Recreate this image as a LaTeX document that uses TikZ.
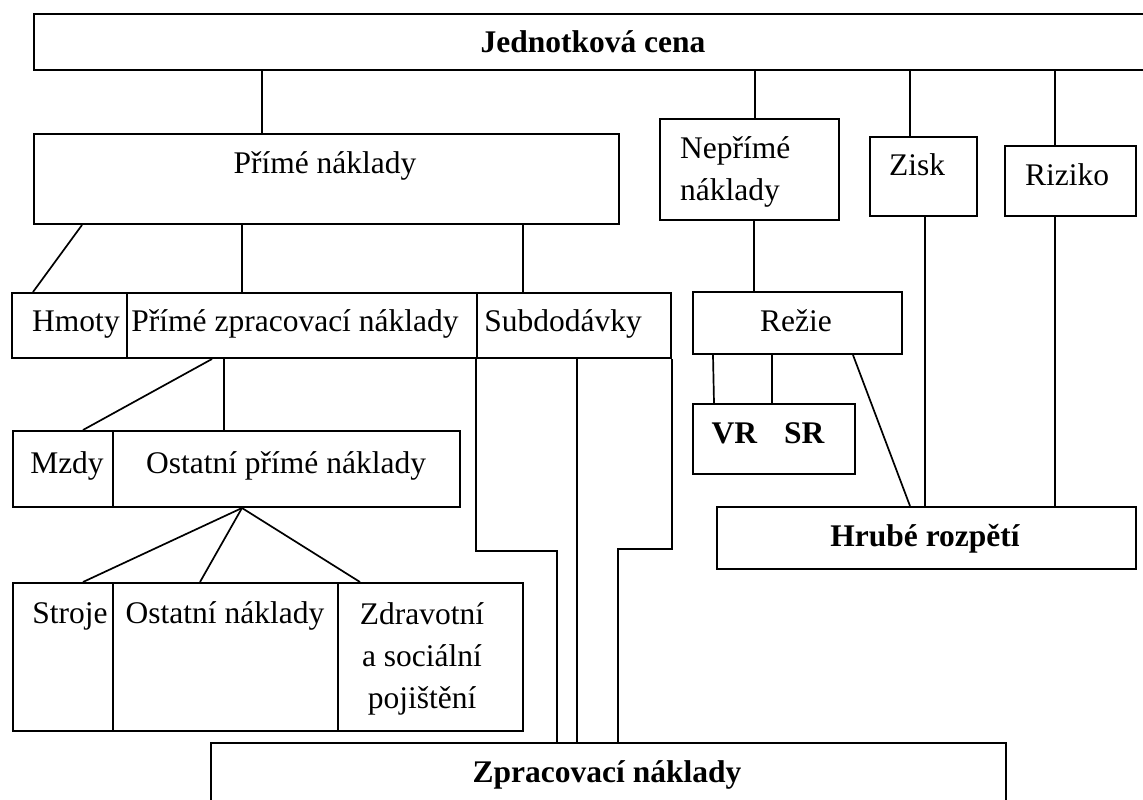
\documentclass[tikz,border=0pt]{standalone}
\usepackage{fontspec}
\setmainfont{Liberation Serif}
\usepackage{tikz}
\usetikzlibrary{calc}

\newcommand{\boxfont}{\fontsize{31.5}{42}\selectfont}

\begin{document}
\begin{tikzpicture}[x=1pt, y=-1pt,
  box/.style={draw, line width=2pt, inner sep=0pt, anchor=north west},
  lbl/.style={inner sep=0pt, anchor=base, font=\boxfont},
  blbl/.style={lbl, font=\boxfont\bfseries},
  link/.style={line width=1.7pt}]
\useasboundingbox (0,0) rectangle (1143,800);

% Boxes
\node[box, minimum width=1200, minimum height=56] (JC) at (33,13) {};
\node[box, minimum width=585, minimum height=90] (PN) at (33,133) {};
\node[box, minimum width=179, minimum height=101] (NP) at (659,118) {};
\node[box, minimum width=107, minimum height=79] (ZI) at (869,136) {};
\node[box, minimum width=131, minimum height=70] (RI) at (1004,145) {};

\node[box, minimum width=115, minimum height=65] (HM) at (11,292) {};
\node[box, minimum width=350, minimum height=65] (PZ) at (126,292) {};
\node[box, minimum width=194, minimum height=65] (SU) at (476,292) {};
\node[box, minimum width=209, minimum height=62] (RE) at (692,291) {};

\node[box, minimum width=100, minimum height=76] (MZ) at (12,430) {};
\node[box, minimum width=347, minimum height=76] (OP) at (112,430) {};
\node[box, minimum width=162, minimum height=70] (VS) at (692,403) {};
\node[box, minimum width=419, minimum height=62] (HR) at (716,506) {};

\node[box, minimum width=100, minimum height=148] (ST) at (12,582) {};
\node[box, minimum width=225, minimum height=148] (ON) at (112,582) {};
\node[box, minimum width=185, minimum height=148] (ZS) at (337,582) {};
\node[box, minimum width=795, minimum height=70] (ZN) at (210,742) {};

% Texts
\node[blbl] (tJC) at (593,53) {Jednotková cena};
\node[lbl] (tPN) at (325,173) {Přímé náklady};
\node[lbl, anchor=north west, align=left] (tNP) at (680,136) {Nepřímé\\náklady};
\node[lbl] (tZI) at (917,175) {Zisk};
\node[lbl] (tRI) at (1067,185) {Riziko};
\node[lbl] (tHM) at (76,331) {Hmoty};
\node[lbl] (tPZ) at (295,331) {Přímé zpracovací náklady};
\node[lbl] (tSU) at (563,331) {Subdodávky};
\node[lbl] (tRE) at (796,331) {Režie};
\node[lbl] (tMZ) at (67,473) {Mzdy};
\node[lbl] (tOP) at (286,473) {Ostatní přímé náklady};
\node[blbl] (tVS) at (768,443) {VR\hspace{27pt}SR};
\node[blbl] (tHR) at (925,546) {Hrubé rozpětí};
\node[lbl] (tST) at (70,623) {Stroje};
\node[lbl] (tON) at (225,623) {Ostatní náklady};
\node[lbl, anchor=north, align=center] (tZS) at (422,602) {Zdravotní\\a sociální\\pojištění};
\node[blbl] (tZN) at (607,782) {Zpracovací náklady};

% Links
\foreach \x/\t in {262/PN,755/NP,910/ZI,1055/RI}
  \draw[link] (JC.south -| \x,0) -- (\t.north -| \x,0);
\draw[link] (PN.south -| 82,0) -- (HM.north -| 33,0);
\draw[link] (PN.south -| 242,0) -- (PZ.north -| 242,0);
\draw[link] (PN.south -| 523,0) -- (SU.north -| 523,0);
\draw[link] (PZ.south -| 212,0) -- (MZ.north -| 83,0);
\draw[link] (PZ.south -| 224,0) -- (OP.north -| 224,0);
\foreach \x/\t in {83/ST,200/ON,360/ZS}
  \draw[link] (OP.south -| 242,0) -- (\t.north -| \x,0);
\draw[link] (SU.south west) -- ++(0,192) -| (ZN.north -| 557,0);
\draw[link] (SU.south -| 577,0) -- (ZN.north -| 577,0);
\draw[link] (SU.south east) -- ++(0,190) -| (ZN.north -| 618,0);
\draw[link] (NP.south -| 754,0) -- (RE.north -| 754,0);
\draw[link] (RE.south -| 713,0) -- (VS.north -| 714,0);
\draw[link] (RE.south -| 772,0) -- (VS.north -| 772,0);
\draw[link] (RE.south -| 853,0) -- (HR.north -| 910,0);
\draw[link] (ZI.south -| 925,0) -- (HR.north -| 925,0);
\draw[link] (RI.south -| 1055,0) -- (HR.north -| 1055,0);
\end{tikzpicture}
\end{document}
